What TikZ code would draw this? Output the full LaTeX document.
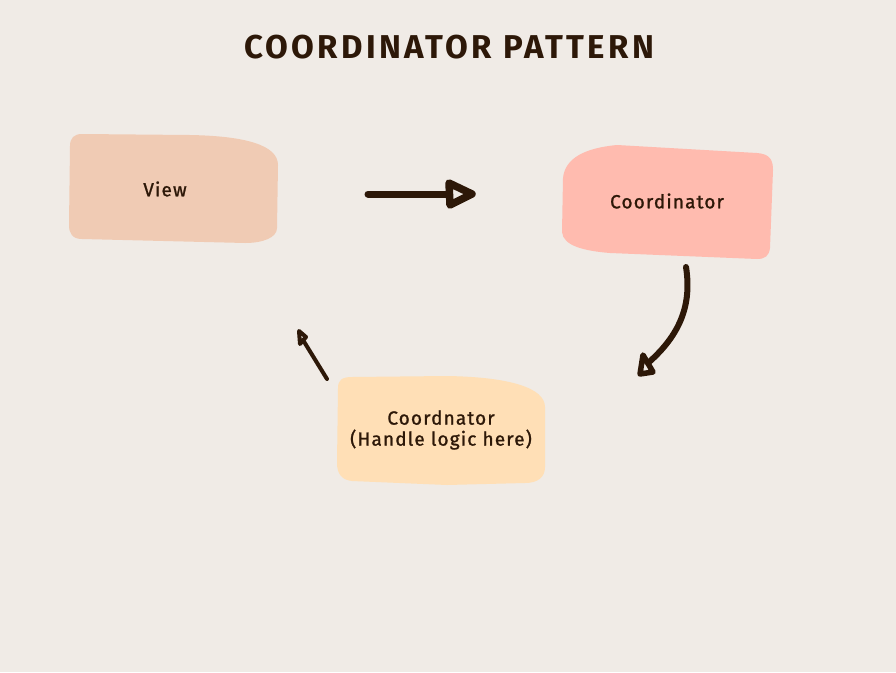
\documentclass[tikz,border=0pt]{standalone}
\usepackage{fontspec}
\setmainfont{Fira Sans}
\newfontfamily\labfont[LetterSpace=6, FakeBold=1.2]{Fira Sans}
\newfontfamily\titfont[LetterSpace=10]{Fira Sans}
\definecolor{bg}{HTML}{F0EBE6}
\definecolor{viewc}{HTML}{F0CBB4}
\definecolor{coordc}{HTML}{FFBBAF}
\definecolor{handc}{HTML}{FFDFB6}
\definecolor{ink}{HTML}{2D1808}
\tikzset{
  lab/.style={text=ink, font=\labfont\fontsize{19}{21}\selectfont, align=center, inner sep=0pt},
  conn/.style={draw=ink, line cap=round, line join=round},
  head/.style={draw=ink, line join=round},
}
\begin{document}
\begin{tikzpicture}[x=1pt,y=-1pt]
\fill[bg] (0,0) rectangle (896,672);
\useasboundingbox (0,0) rectangle (896,672);
% title
\node[text=ink, font=\titfont\bfseries\fontsize{33}{36}\selectfont, inner sep=0pt] (title) at (449,47) {COORDINATOR PATTERN};
% View blob
\fill[viewc] (82,134) -- (190,135) .. controls (245,136) and (278,145) .. (278,165) -- (277,228) .. controls (277,238) and (262,243) .. (245,243) -- (82,239) .. controls (72,239) and (69,233) .. (69,225) -- (70,146) .. controls (70,138) and (74,134) .. (82,134) -- cycle;
% Coordinator blob
\fill[coordc] (563,178) .. controls (565,158) and (585,148) .. (617,145) -- (757,153) .. controls (770,154) and (773,160) .. (773,170) -- (770,248) .. controls (769,256) and (765,259) .. (757,259) -- (610,253) .. controls (585,251) and (563,246) .. (562,232) -- cycle;
% Handle blob
\fill[handc] (338,388) .. controls (338,380) and (342,377) .. (352,377) -- (447,376) .. controls (510,377) and (545,388) .. (545,407) -- (545,467) .. controls (545,477) and (538,483) .. (525,483) -- (447,485) -- (352,481) .. controls (342,480) and (337,474) .. (337,463) -- cycle;
% labels
\node[lab] (view) at (165,189) {View};
\node[lab] (coord) at (667,201) {Coordinator};
\node[lab] (handle) at (441,430) {Coordnator\\(Handle logic here)};
% arrow endpoints
\coordinate (a1s) at (368,194);
\coordinate (a1e) at (449,194);
\coordinate (a2s) at (686,267);
\coordinate (a2e) at (648,363);
\coordinate (a3s) at (327,379);
\coordinate (a3e) at (303,340);
% arrow 1
\draw[conn, line width=7pt] (a1s) -- (a1e);
\draw[head, line width=7.5pt] (449,183) -- (472,194) -- (450,205) -- cycle;
% arrow 2
\draw[conn, line width=6pt] (a2s) .. controls (692,305) and (680,335) .. (a2e);
\draw[head, line width=5.5pt] (643,355) -- (653,372) -- (640,374) -- cycle;
% arrow 3
\draw[conn, line width=4pt] (a3s) -- (a3e);
\draw[head, line width=4pt] (299,331) -- (306,337) -- (300,344) -- cycle;
\end{tikzpicture}
\end{document}
